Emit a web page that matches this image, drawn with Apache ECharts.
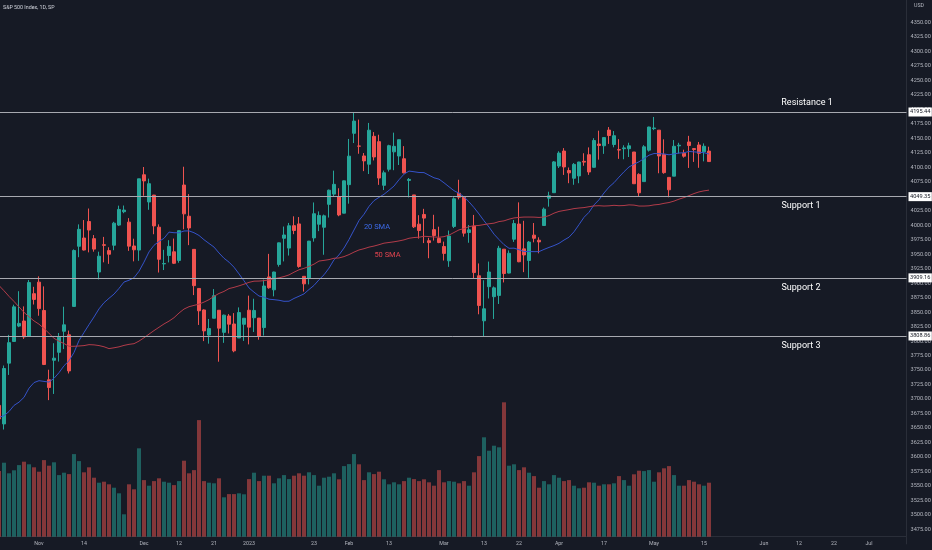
<!DOCTYPE html>
<html>
<head>
<meta charset="utf-8">
<script src="https://cdn.jsdelivr.net/npm/echarts@6.0.0/dist/echarts.min.js"></script>
<style>
html,body{margin:0;padding:0;background:#161a25;}
#c{width:932px;height:550px;}
</style>
</head>
<body>
<div id="c"></div>
<script>
// ---- trading days shown (Oct 20, 2022 .. May 16, 2023) and empty future slots ----
const tradingDays = [
  ['2022-10',[20,21,24,25,26,27,28,31]],
  ['2022-11',[1,2,3,4,7,8,9,10,11,14,15,16,17,18,21,22,23,25,28,29,30]],
  ['2022-12',[1,2,5,6,7,8,9,12,13,14,15,16,19,20,21,22,23,27,28,29,30]],
  ['2023-01',[3,4,5,6,9,10,11,12,13,17,18,19,20,23,24,25,26,27,30,31]],
  ['2023-02',[1,2,3,6,7,8,9,10,13,14,15,16,17,21,22,23,24,27,28]],
  ['2023-03',[1,2,3,6,7,8,9,10,13,14,15,16,17,20,21,22,23,24,27,28,29,30,31]],
  ['2023-04',[3,4,5,6,10,11,12,13,14,17,18,19,20,21,24,25,26,27,28]],
  ['2023-05',[1,2,3,4,5,8,9,10,11,12,15,16]]
];
const futureDays = [
  ['2023-05',[17,18,19,22,23,24,25,26,30,31]],
  ['2023-06',[1,2,5,6,7,8,9,12,13,14,15,16,20,21,22,23,26,27,28,29,30]],
  ['2023-07',[3,5,6,7,10,11,12,13]]
];

// ---- OHLC ----
const opens = [
  3689.05,3657.10,3762.01,3799.44,3825.97,3834.69,3808.26,3881.85,
  3901.79,3852.90,3733.25,3766.98,3780.71,3817.02,3810.94,3859.89,3963.72,3977.97,4006.41,3976.82,3919.26,3966.39,3956.23,3965.51,4000.30,4023.34,4005.36,3964.19,3957.18,
  4087.14,4040.17,4052.02,3996.63,3933.28,3947.79,3954.17,3939.29,4069.38,4015.54,3958.37,3890.91,3853.79,3810.47,3839.49,3853.26,3815.11,3843.34,3829.56,3805.45,3829.06,
  3853.29,3840.36,3839.74,3823.37,3910.82,3888.57,3932.35,3977.57,3960.60,3999.28,4002.25,3911.84,3909.04,3978.14,4001.74,3996.55,4036.08,4053.72,4049.27,4020.85,
  4070.07,4158.68,4136.69,4119.57,4105.35,4153.47,4144.25,4068.92,4096.62,4126.70,4119.50,4114.75,4077.39,4052.35,4001.83,4018.60,3973.24,3992.36,3977.19,
  3963.34,3938.68,3998.02,4055.15,4048.26,3987.55,3998.66,3912.77,3835.12,3894.01,3876.74,3878.93,3958.69,3917.47,3975.89,4002.04,3959.21,3939.21,3982.93,3974.13,3999.53,4046.74,4056.18,
  4102.20,4128.03,4094.50,4081.15,4085.20,4110.29,4121.72,4100.04,4140.11,4137.17,4164.26,4139.33,4130.48,4132.14,4132.07,4126.43,4087.78,4075.29,4129.63,
  4166.79,4164.10,4122.25,4082.61,4084.73,4136.98,4124.25,4143.74,4132.24,4138.54,4126.65,4127.95
];
const highs = [
  3736.00,3757.89,3810.74,3862.85,3886.15,3859.95,3905.42,3893.73,
  3911.79,3894.44,3750.59,3796.34,3813.95,3859.40,3818.20,3958.33,4001.48,4008.97,4028.84,3983.09,3954.33,3979.89,3962.00,4005.88,4033.78,4034.02,4012.27,3976.77,4080.11,
  4100.51,4080.48,4052.45,4001.51,3957.57,3974.19,3977.02,3990.71,4100.96,4053.76,3958.37,3890.91,3854.86,3838.24,3889.82,3853.26,3845.80,3846.65,3848.32,3858.19,3839.85,
  3878.46,3873.16,3839.74,3906.19,3950.57,3919.83,3970.07,3997.76,4003.95,4015.39,4014.16,3911.84,3972.96,4039.31,4023.92,4018.41,4061.57,4094.21,4063.85,4077.16,
  4148.95,4195.44,4182.36,4124.63,4176.54,4160.77,4156.23,4094.36,4138.90,4159.77,4148.11,4136.54,4081.51,4052.35,4017.37,4028.30,3978.25,4018.05,3997.50,
  3971.73,3990.84,4048.29,4078.49,4050.00,4000.41,4017.81,3934.05,3905.05,3937.29,3894.26,3964.46,3958.91,3956.62,4009.08,4039.49,4007.66,3972.74,4003.83,3979.20,4030.59,4057.85,4110.75,
  4127.66,4133.13,4099.69,4107.32,4109.50,4124.26,4134.37,4150.26,4163.19,4151.72,4169.48,4162.57,4148.57,4138.02,4142.41,4126.43,4089.67,4138.24,4170.06,
  4186.92,4164.10,4148.30,4082.61,4147.02,4142.30,4130.35,4154.28,4132.80,4143.74,4141.25,4135.54
];
const lows = [
  3656.44,3647.42,3741.65,3799.44,3824.07,3803.79,3808.26,3863.18,
  3843.80,3758.68,3698.15,3708.84,3764.70,3786.28,3744.22,3859.89,3944.82,3956.40,3953.17,3954.34,3906.54,3935.98,3933.34,3956.88,3998.66,4020.76,3955.77,3937.65,3938.58,
  4050.87,4026.63,3984.49,3918.39,3922.68,3935.83,3933.04,3935.30,3993.03,3965.65,3879.45,3827.91,3800.04,3795.62,3839.49,3764.49,3797.01,3813.22,3780.78,3805.45,3800.34,
  3794.33,3815.77,3802.42,3809.56,3890.42,3877.29,3928.54,3937.56,3947.67,3984.57,3926.59,3885.54,3897.86,3971.64,3989.79,3949.06,4013.29,4048.70,4015.55,4020.44,
  4037.20,4141.88,4123.36,4093.38,4088.39,4111.86,4069.67,4060.79,4092.67,4095.01,4103.98,4089.49,4047.95,3995.19,3976.90,3969.19,3943.08,3973.55,3968.98,
  3939.05,3928.16,3995.17,4044.61,3980.31,3969.76,3908.70,3846.32,3808.86,3873.63,3838.24,3864.11,3901.27,3916.89,3971.19,3936.17,3919.05,3909.16,3970.49,3951.53,3999.53,4032.10,4056.18,
  4098.79,4086.87,4072.56,4069.84,4072.55,4102.61,4086.94,4099.40,4113.20,4123.18,4140.36,4134.49,4114.57,4113.86,4117.77,4071.38,4049.35,4075.29,4127.18,
  4164.12,4089.72,4088.86,4048.28,4084.73,4123.81,4116.65,4098.92,4109.29,4099.12,4110.27,4109.86
];
const closes = [
  3665.78,3752.75,3797.34,3859.11,3830.60,3807.30,3901.06,3871.98,
  3856.10,3759.69,3719.89,3770.55,3806.80,3828.11,3748.57,3956.37,3992.93,3957.25,3991.73,3958.79,3946.56,3965.34,3949.94,4003.58,4027.26,4026.12,3963.94,3957.63,4080.11,
  4076.57,4071.70,3998.84,3941.26,3933.92,3963.51,3934.38,3990.56,4019.65,3995.32,3895.75,3852.36,3817.66,3821.62,3878.44,3822.39,3844.82,3829.25,3783.22,3849.28,3839.50,
  3824.14,3852.97,3808.10,3895.08,3892.09,3919.25,3969.61,3983.17,3999.09,3990.97,3928.86,3898.85,3972.61,4019.81,4016.95,4016.22,4060.43,4070.56,4017.77,4076.60,
  4119.21,4179.76,4136.48,4111.08,4164.00,4117.86,4081.50,4090.46,4137.29,4136.13,4147.60,4090.41,4079.09,3997.34,3991.05,4012.32,3970.04,3982.24,3970.15,
  3951.39,3981.35,4045.64,4048.42,3986.37,3992.01,3918.32,3861.59,3855.76,3919.29,3891.93,3960.28,3916.64,3951.57,4002.87,3936.97,3948.72,3970.99,3977.53,3971.27,4027.81,4050.83,4109.31,
  4124.51,4100.60,4090.38,4105.02,4109.11,4108.94,4091.95,4146.22,4137.64,4151.32,4154.87,4154.52,4129.79,4133.52,4137.04,4071.63,4055.99,4135.35,4169.48,
  4167.87,4119.58,4090.75,4061.22,4136.25,4138.12,4119.17,4137.64,4130.62,4124.08,4136.28,4109.90
];
// closes before the visible window (Aug 10 .. Oct 19, 2022), needed by the moving averages
const priorCloses = [
  4210.24,4207.27,4280.15,4297.14,4305.20,4274.04,4283.74,4228.48,4137.99,4128.73,4140.77,4199.12,4057.66,4030.61,3986.16,3955.00,
  3966.85,3924.26,3908.19,3979.87,4006.18,4067.36,4110.41,3932.69,3946.01,3901.35,3873.33,3899.89,3855.93,3789.93,3757.99,3693.23,3655.04,3647.29,3719.04,3640.47,3585.62,
  3678.43,3790.93,3783.28,3744.52,3639.66,3612.39,3588.84,3577.03,3669.91,3583.07,3677.95,3719.98,3695.16
];
// volume (billions of shares)
const volumes = [
  3.28,3.70,3.17,3.32,3.58,3.75,3.62,3.47,3.25,3.83,
  3.55,3.72,3.08,3.20,3.13,4.13,3.78,3.22,3.47,2.95,
  2.70,2.75,2.62,2.45,2.17,1.12,2.62,2.37,4.42,2.83,
  2.55,2.78,2.92,2.75,2.70,2.58,2.78,3.80,3.17,3.33,
  5.83,2.78,2.70,2.67,2.92,1.97,2.13,2.13,2.17,2.12,
  2.88,3.20,2.78,3.05,3.05,2.67,2.92,3.08,2.88,3.05,
  3.17,3.05,3.22,3.08,2.55,2.95,3.00,3.17,2.87,3.53,
  3.63,4.13,3.62,2.83,3.22,3.13,3.25,2.87,2.62,2.72,
  2.62,2.78,2.95,2.88,2.78,2.87,2.72,2.55,3.33,2.72,
  2.78,2.75,2.67,2.78,2.55,3.22,4.03,4.97,4.30,4.55,
  4.47,6.72,3.55,3.62,3.33,3.47,3.20,3.03,2.45,2.78,
  2.62,3.08,2.95,2.78,2.83,2.55,2.42,2.45,2.72,2.70,
  2.55,2.62,2.62,2.67,3.03,2.83,2.55,3.12,3.30,3.28,
  3.33,2.75,3.22,3.42,3.53,3.08,2.55,2.55,2.83,2.75,
  2.62,2.55,2.70
];

// ---- horizontal levels ----
const levelValues = [4195.44, 4049.35, 3909.16, 3808.86];
const levelNames = ['Resistance 1', 'Support 1', 'Support 2', 'Support 3'];
const lastPrice = 4109.90;

// ---- time axis tick labels ----
const tickDates = ['2022-11-01','2022-11-14','2022-12-01','2022-12-12','2022-12-21','2023-01-03','2023-01-23','2023-02-01','2023-02-13','2023-03-01','2023-03-13','2023-03-22','2023-04-03','2023-04-17','2023-05-01','2023-05-15','2023-06-01','2023-06-12','2023-06-22','2023-07-03'];
const tickLabels = ['Nov','14','Dec','12','21','2023','23','Feb','13','Mar','13','22','Apr','17','May','15','Jun','12','22','Jul'];

// ---- build ----
function expand(list){const out=[];list.forEach(([m,ds])=>ds.forEach(d=>out.push(m+'-'+String(d).padStart(2,'0'))));return out;}
const dates = expand(tradingDays).concat(expand(futureDays));
const candleData = opens.map((o,i)=>[o, closes[i], lows[i], highs[i]]);
const allCloses = priorCloses.concat(closes);
function sma(n){
  return closes.map((c,i)=>{
    const k = priorCloses.length + i;
    let s = 0;
    for (let j = k - n + 1; j <= k; j++) s += allCloses[j];
    return +(s / n).toFixed(2);
  });
}
const sma20 = sma(20), sma50 = sma(50);
const UP = '#26a69a', DOWN = '#ef5350';
const volData = volumes.map((v,i)=>({value:v, itemStyle:{color: closes[i] >= opens[i] ? 'rgba(38,166,154,0.5)' : 'rgba(239,83,80,0.5)'}}));

const FONT = 'Roboto';
const chart = echarts.init(document.getElementById('c'), null, {renderer:'canvas'});
const gridL = -3.5, gridR = 25.5;
chart.setOption({
  animation:false,
  backgroundColor:'#161a25',
  textStyle:{fontFamily:FONT},
  title:{text:'S&P 500 Index, 1D, SP', left:1, top:5, padding:[0,2], textStyle:{color:'#d1d4dc', fontSize:5.3, fontWeight:'normal', fontFamily:FONT}},
  graphic:[{type:'text', right:8, top:3, style:{text:'USD', fill:'#b2b5be', fontSize:5.3, fontFamily:FONT}}],
  grid:[
    {left:gridL, right:gridR, top:-6.52, bottom:6.09, outerBoundsMode:'none', containLabel:false},
    {left:gridL, right:gridR, top:136.7, bottom:13.3, outerBoundsMode:'none', containLabel:false}
  ],
  xAxis:[
    {type:'category', gridIndex:0, data:dates, boundaryGap:true, show:false},
    {type:'category', gridIndex:1, data:dates, boundaryGap:true,
     axisLine:{show:true, lineStyle:{color:'#2a2e39', width:1}},
     axisTick:{show:false}, splitLine:{show:false},
     axisLabel:{show:true, color:'#b2b5be', fontSize:5.3, margin:4.5, fontFamily:FONT,
       interval:(idx, val)=>tickDates.indexOf(val) >= 0,
       formatter:(val)=>{const k = tickDates.indexOf(val); return k >= 0 ? tickLabels[k] : '';}}}
  ],
  yAxis:[
    {type:'value', gridIndex:0, position:'right', min:3450, max:4400, interval:25, scale:true,
     axisLine:{show:true, lineStyle:{color:'#2a2e39', width:1}},
     axisTick:{show:false}, splitLine:{show:false},
     axisLabel:{show:true, color:'#b2b5be', fontSize:5.6, margin:4, fontFamily:FONT,
       formatter:(v)=> (v >= 4375 || v < 3475) ? '' : v.toFixed(2)}},
    {type:'value', gridIndex:1, min:0, max:20, show:false}
  ],
  series:[
    {type:'bar', name:'Volume', xAxisIndex:1, yAxisIndex:1, data:volData, barWidth:4, z:1, silent:true},
    {type:'candlestick', name:'SPX', xAxisIndex:0, yAxisIndex:0, data:candleData, barWidth:3.6, z:3,
     itemStyle:{color:UP, color0:DOWN, borderColor:UP, borderColor0:DOWN, borderWidth:1},
     markLine:{symbol:['none','none'], silent:true, animation:false,
       lineStyle:{color:'#a7a9b0', width:1, type:'solid'},
       label:{show:true, position:'end', distance:2, formatter:(p)=>p.value.toFixed(2),
         backgroundColor:'#ffffff', color:'#131722', fontSize:5.6, padding:[2,1.5,1,1.5], fontFamily:FONT},
       data: levelValues.map(v=>({yAxis:v})).concat([{yAxis:lastPrice, lineStyle:{opacity:0},
         label:{backgroundColor:DOWN, color:'#ffffff'}}])},
     markPoint:{symbol:'rect', symbolSize:1, silent:true, animation:false, itemStyle:{color:'rgba(0,0,0,0)'},
       label:{show:true, position:'inside', color:'#ffffff', fontSize:9, fontFamily:FONT},
       data: levelValues.map((v,i)=>({name:levelNames[i], coord:[dates[i===0?161:160], v],
         label:{formatter:levelNames[i], offset: i===0 ? [3,-9] : [2, 9.5]}}))}
    },
    {type:'line', name:'20 SMA', xAxisIndex:0, yAxisIndex:0, data:sma20, showSymbol:false, symbol:'none', z:4,
     lineStyle:{color:'#3553c9', width:1}, silent:true,
     markPoint:{symbol:'rect', symbolSize:1, itemStyle:{color:'rgba(0,0,0,0)'}, silent:true,
       label:{show:true, position:'inside', color:'#3d6ae8', fontSize:7.5, fontFamily:FONT},
       data:[{coord:[dates[76], 3996.4], label:{formatter:'20 SMA', offset:[-2,0]}}]}},
    {type:'line', name:'50 SMA', xAxisIndex:0, yAxisIndex:0, data:sma50, showSymbol:false, symbol:'none', z:4,
     lineStyle:{color:'#b23c4a', width:1}, silent:true,
     markPoint:{symbol:'rect', symbolSize:1, itemStyle:{color:'rgba(0,0,0,0)'}, silent:true,
       label:{show:true, position:'inside', color:'#e0444f', fontSize:7.5, fontFamily:FONT},
       data:[{coord:[dates[78], 3948.6], label:{formatter:'50 SMA', offset:[-1.5,0]}}]}}
  ]
});
</script>
</body>
</html>
